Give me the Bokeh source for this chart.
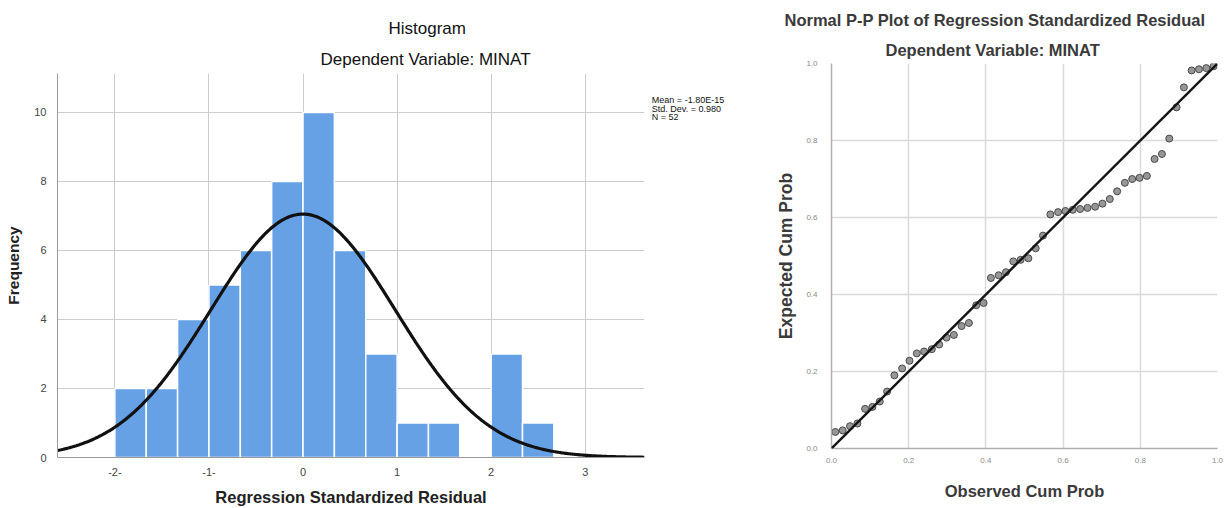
import numpy as np
from bokeh.plotting import figure
from bokeh.models import Range1d, Slope, FixedTicker, Title
from bokeh.layouts import row, column
from bokeh.embed import file_html
from bokeh.resources import INLINE

# ---------------- Histogram data ----------------
bin_left = [-2.0, -1.6667, -1.3333, -1.0, -0.6667, -0.3333, 0.0, 0.3333,
            0.6667, 1.0, 1.3333, 1.6667, 2.0, 2.3333]
bin_right = [-1.6667, -1.3333, -1.0, -0.6667, -0.3333, 0.0, 0.3333, 0.6667,
             1.0, 1.3333, 1.6667, 2.0, 2.3333, 2.6667]
counts = [2, 2, 4, 5, 6, 8, 10, 6, 3, 1, 1, 0, 3, 1]
resid_mean = -1.80e-15
resid_std = 0.980
n_obs = 52
stats_lines = ["Mean = -1.80E-15", "Std. Dev. = 0.980", "N = 52"]
x_ticks = [-2, -1, 0, 1, 2, 3]
x_tick_labels = ["-2-", "-1-", "0", "1", "2", "3"]
y_ticks = [0, 2, 4, 6, 8, 10]

# ---------------- P-P plot data ----------------
observed_cum_prob = [0.010, 0.029, 0.048, 0.067, 0.087, 0.106, 0.125, 0.144, 0.163, 0.183,
                     0.202, 0.221, 0.240, 0.260, 0.279, 0.298, 0.317, 0.337, 0.356, 0.375,
                     0.394, 0.413, 0.433, 0.452, 0.471, 0.490, 0.510, 0.529, 0.548, 0.567,
                     0.587, 0.606, 0.625, 0.644, 0.663, 0.683, 0.702, 0.721, 0.740, 0.760,
                     0.779, 0.798, 0.817, 0.837, 0.856, 0.875, 0.894, 0.913, 0.933, 0.952,
                     0.971, 0.990]
expected_cum_prob = [0.043, 0.047, 0.058, 0.065, 0.103, 0.108, 0.122, 0.148, 0.190, 0.208,
                     0.228, 0.247, 0.252, 0.258, 0.270, 0.288, 0.295, 0.318, 0.326, 0.372,
                     0.378, 0.443, 0.450, 0.458, 0.486, 0.490, 0.494, 0.520, 0.553, 0.608,
                     0.614, 0.617, 0.620, 0.622, 0.625, 0.628, 0.636, 0.648, 0.668, 0.690,
                     0.700, 0.703, 0.708, 0.752, 0.765, 0.805, 0.886, 0.938, 0.982, 0.985,
                     0.988, 0.993]
pp_ticks = [0.0, 0.2, 0.4, 0.6, 0.8, 1.0]

FONT = "Liberation Sans"
H = 508

# ---------------- Left: histogram ----------------
x0, x1 = -2.61, 3.63
y0, y1 = 0.0, 11.13
p1 = figure(width=648, height=H, x_range=Range1d(x0, x1), y_range=Range1d(y0, y1),
            output_backend="svg", toolbar_location=None,
            min_border_left=57, min_border_right=4, min_border_top=73, min_border_bottom=51)
p1.outline_line_color = None

p1.quad(left=bin_left, right=bin_right, bottom=0, top=counts,
        fill_color="#66a1e6", line_color="white", line_width=1.5)

bw = bin_right[0] - bin_left[0]
xs = np.linspace(x0, x1, 500)
ys = n_obs * bw / (resid_std * np.sqrt(2 * np.pi)) * np.exp(-0.5 * ((xs - resid_mean) / resid_std) ** 2)
p1.line(xs, ys, line_color="#111111", line_width=3.2)

p1.xaxis.ticker = FixedTicker(ticks=x_ticks)
p1.xaxis.major_label_overrides = {t: l for t, l in zip(x_ticks, x_tick_labels)}
p1.yaxis.ticker = FixedTicker(ticks=y_ticks)
for ax in (p1.xaxis, p1.yaxis):
    ax.major_tick_line_color = None
    ax.minor_tick_line_color = None
    ax.major_label_text_font = FONT
    ax.major_label_text_font_size = "11px"
    ax.major_label_text_color = "#444444"
    ax.axis_line_color = "#9a9a9a"
    ax.axis_label_text_font = FONT
    ax.axis_label_text_font_style = "bold"
    ax.axis_label_text_color = "#222222"
p1.xaxis.axis_label_text_font_size = "16.5px"
p1.yaxis.axis_label_text_font_size = "15.5px"
p1.xaxis.axis_label = "Regression Standardized Residual"
p1.yaxis.axis_label = "Frequency"
p1.xaxis.major_label_standoff = 4
p1.xaxis.axis_label_standoff = 9
p1.yaxis.major_label_standoff = 5
p1.yaxis.axis_label_standoff = 9
p1.xgrid.grid_line_color = "#cccccc"
p1.ygrid.grid_line_color = "#cccccc"
p1.xgrid.ticker = FixedTicker(ticks=x_ticks)
p1.ygrid.ticker = FixedTicker(ticks=y_ticks)

# titles (first added sits closest to the frame)
p1.add_layout(Title(text="Dependent Variable: MINAT", align="left", offset=263,
                    text_font=FONT, text_font_size="17px", text_font_style="normal",
                    text_color="#111111"), "above")
p1.add_layout(Title(text="Histogram", align="left", offset=331,
                    text_font=FONT, text_font_size="17px", text_font_style="normal",
                    text_color="#111111"), "above")

# ---------------- stats box (same vertical scale as histogram) ----------------
p3 = figure(width=112, height=H, x_range=Range1d(0, 1), y_range=Range1d(y0, y1),
            output_backend="svg", toolbar_location=None, x_axis_location=None, y_axis_location=None,
            min_border_left=0, min_border_right=0, min_border_top=73, min_border_bottom=51)
p3.outline_line_color = None
p3.xgrid.visible = False
p3.ygrid.visible = False
stat_x = [0.03, 0.03, 0.03]
stat_y = [(457 - 99.5) / 34.5, (457 - 108.2) / 34.5, (457 - 116.9) / 34.5]
p3.text(x=stat_x, y=stat_y, text=stats_lines, text_align="left", text_baseline="middle",
        text_font_size="9px", text_color="#111111", text_font={"value": FONT})

# ---------------- Right: P-P plot ----------------
p2 = figure(width=466, height=H, x_range=Range1d(0, 1), y_range=Range1d(0, 1),
            output_backend="svg", toolbar_location=None,
            min_border_left=71, min_border_right=9, min_border_top=63, min_border_bottom=60)
p2.outline_line_color = None

p2.add_layout(Slope(gradient=1, y_intercept=0, line_color="#151515", line_width=2.4))
p2.scatter(observed_cum_prob, expected_cum_prob, size=7, fill_color="#8c8c8c",
           line_color="#4a4a4a", line_width=1, fill_alpha=0.9)

for ax in (p2.xaxis, p2.yaxis):
    ax.ticker = FixedTicker(ticks=pp_ticks)
    ax.major_tick_line_color = None
    ax.minor_tick_line_color = None
    ax.major_label_text_font = FONT
    ax.major_label_text_font_size = "8px"
    ax.major_label_text_color = "#8a8a8a"
    ax.axis_line_color = "#b0b0b0"
    ax.axis_line_width = 1.5
    ax.axis_label_text_font = FONT
    ax.axis_label_text_font_style = "bold"
    ax.axis_label_text_color = "#3a3a3a"
p2.xaxis.axis_label_text_font_size = "16.5px"
p2.yaxis.axis_label_text_font_size = "17.5px"
p2.xaxis.major_label_overrides = {t: f"{t:.1f}" for t in pp_ticks}
p2.yaxis.major_label_overrides = {t: f"{t:.1f}" for t in pp_ticks}
p2.xaxis.axis_label = "Observed Cum Prob"
p2.yaxis.axis_label = "Expected Cum Prob"
p2.xaxis.major_label_standoff = 3
p2.xaxis.axis_label_standoff = 16
p2.yaxis.major_label_standoff = 8
p2.yaxis.axis_label_standoff = 7
for g in (p2.xgrid, p2.ygrid):
    g.ticker = FixedTicker(ticks=pp_ticks)
    g.grid_line_color = "#dadada"
    g.grid_line_width = 1.5

p2.add_layout(Title(text="Dependent Variable: MINAT", align="left", offset=54,
                    text_font=FONT, text_font_size="16.5px", text_font_style="bold",
                    text_color="#3a3a3a"), "above")
p2.add_layout(Title(text="Normal P-P Plot of Regression Standardized Residual", align="left",
                    offset=-47, text_font=FONT, text_font_size="16.5px", text_font_style="bold",
                    text_color="#3a3a3a"), "above")

layout = row(column(p1), column(p3), column(p2))
open("out.html", "w").write(file_html(layout, INLINE))
